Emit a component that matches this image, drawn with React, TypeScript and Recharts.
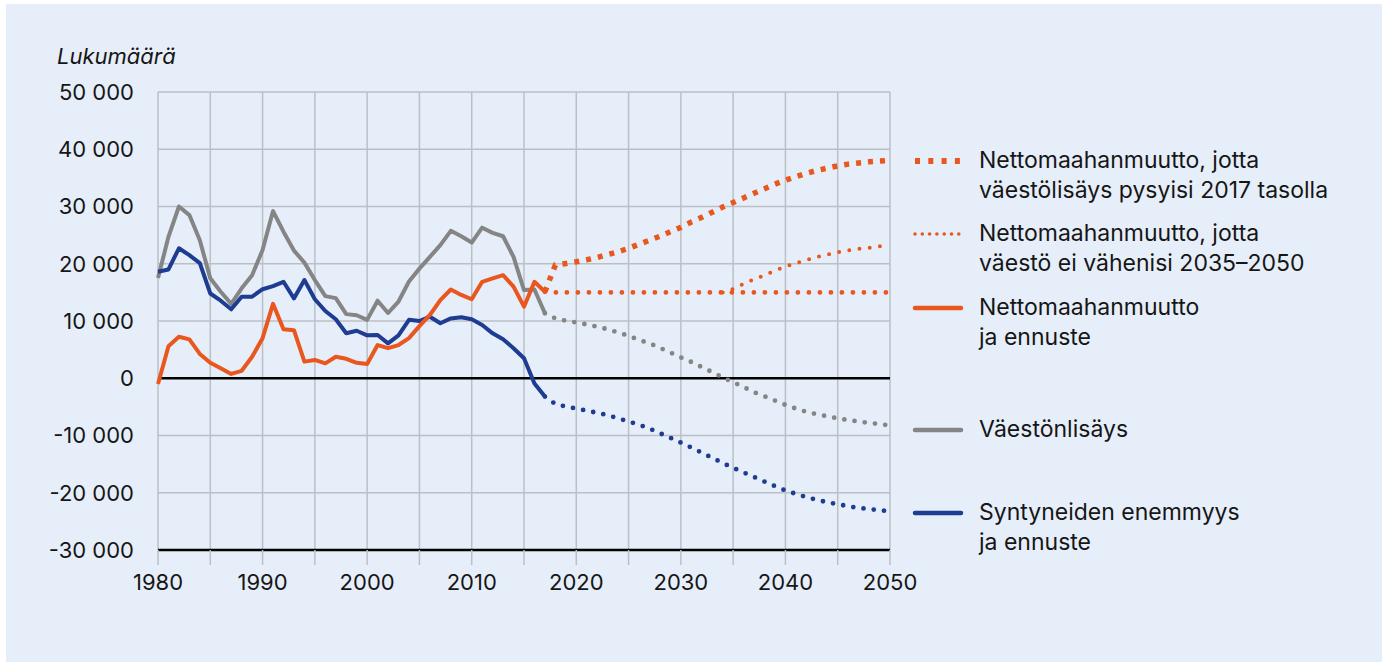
import {
  LineChart,
  Line,
  XAxis,
  YAxis,
  CartesianGrid,
  ReferenceLine,
} from "recharts";

const FONT = "Inter, 'Noto Sans', sans-serif";
const ORANGE = "#e9571f";
const BLUE = "#1e3c91";
const GRAY = "#858585";
const GRID = "#bcc0c6";
const BG = "#e6eef9";
const TEXT = "#161616";

// history 1980-2017
const histYears = [
  1980, 1981, 1982, 1983, 1984, 1985, 1986, 1987, 1988, 1989, 1990, 1991, 1992,
  1993, 1994, 1995, 1996, 1997, 1998, 1999, 2000, 2001, 2002, 2003, 2004, 2005,
  2006, 2007, 2008, 2009, 2010, 2011, 2012, 2013, 2014, 2015, 2016, 2017,
];
const nettoHist = [
  -1000, 5600, 7250, 6800, 4250, 2700, 1750, 750, 1300, 3750, 7000, 13000, 8550,
  8400, 2900, 3200, 2600, 3750, 3400, 2700, 2500, 5800, 5250, 5800, 7000, 9100,
  11050, 13650, 15500, 14550, 13800, 16850, 17450, 18000, 16000, 12500, 16850,
  15100,
];
const lisaysHist = [
  17500, 24700, 30000, 28500, 24100, 17450, 15100, 13000, 15700, 18000, 22400,
  29200, 25600, 22300, 20200, 17150, 14350, 14000, 11200, 11000, 10200, 13550,
  11400, 13400, 16900, 19150, 21200, 23250, 25750, 24800, 23700, 26300, 25400,
  24800, 21200, 15400, 15500, 11350,
];
const syntyneetHist = [
  18600, 19000, 22700, 21500, 20100, 14800, 13550, 12050, 14250, 14250, 15550,
  16100, 16850, 13950, 17150, 13800, 11750, 10300, 7850, 8300, 7500, 7550, 6100,
  7500, 10200, 10000, 10750, 9600, 10450, 10650, 10300, 9300, 7850, 6800, 5250,
  3500, -900, -3200,
];

// forecast 2017-2050
const fcYears = [
  2017, 2018, 2019, 2020, 2021, 2022, 2023, 2024, 2025, 2026, 2027, 2028, 2029,
  2030, 2031, 2032, 2033, 2034, 2035, 2036, 2037, 2038, 2039, 2040, 2041, 2042,
  2043, 2044, 2045, 2046, 2047, 2048, 2049, 2050,
];
const nettoFc = [
  15100, 15000, 15000, 15000, 15000, 15000, 15000, 15000, 15000, 15000, 15000,
  15000, 15000, 15000, 15000, 15000, 15000, 15000, 15000, 15000, 15000, 15000,
  15000, 15000, 15000, 15000, 15000, 15000, 15000, 15000, 15000, 15000, 15000,
  15000,
];
const nettoTasollaFc = [
  15100, 19800, 20050, 20350, 20700, 21100, 21600, 22100, 22700, 23400, 24100,
  24800, 25600, 26350, 27300, 28100, 29000, 29900, 30700, 31500, 32300, 33100,
  33900, 34600, 35200, 35800, 36300, 36700, 37100, 37400, 37600, 37800, 37950,
  38050,
];
const lisaysFc = [
  11350, 10450, 10050, 9750, 9400, 9000, 8550, 8000, 7400, 6700, 6100, 5300,
  4500, 3630, 2850, 1950, 1070, 150, -700, -1530, -2450, -3150, -3900, -4650,
  -5300, -5850, -6300, -6650, -7000, -7300, -7550, -7800, -8000, -8250,
];
const syntyneetFc = [
  -3200, -4500, -4950, -5300, -5650, -6050, -6450, -7000, -7550, -8100, -8800,
  -9600, -10400, -11250, -12100, -13000, -13900, -14800, -15650, -16450, -17250,
  -18050, -18850, -19600, -20200, -20750, -21250, -21650, -22000, -22350,
  -22650, -22850, -23050, -23250,
];

// scenario: population would not decline 2035-2050
const eiVahenisiYears = [
  2034, 2035, 2036, 2037, 2038, 2039, 2040, 2041, 2042, 2043, 2044, 2045, 2046,
  2047, 2048, 2049, 2050,
];
const eiVahenisi = [
  15000, 15600, 16500, 17300, 18000, 18800, 19500, 20100, 20650, 21200, 21600,
  22000, 22350, 22600, 22800, 23050, 23150,
];

const xTicks = [
  1980, 1985, 1990, 1995, 2000, 2005, 2010, 2015, 2020, 2025, 2030, 2035, 2040,
  2045, 2050,
];
const yTicks = [-30000, -20000, -10000, 0, 10000, 20000, 30000, 40000, 50000];

const legendItems = [
  { lines: ["Nettomaahanmuutto, jotta", "väestölisäys pysyisi 2017 tasolla"], kind: "square", color: ORANGE, top: 0 },
  { lines: ["Nettomaahanmuutto, jotta", "väestö ei vähenisi 2035–2050"], kind: "dot", color: ORANGE, top: 73 },
  { lines: ["Nettomaahanmuutto", "ja ennuste"], kind: "solid", color: ORANGE, top: 147 },
  { lines: ["Väestönlisäys"], kind: "solid", color: GRAY, top: 269 },
  { lines: ["Syntyneiden enemmyys", "ja ennuste"], kind: "solid", color: BLUE, top: 352 },
];

const data = Array.from({ length: 71 }, (_, i) => {
  const year = 1980 + i;
  const row: Record<string, number | undefined> = { year };
  const h = histYears.indexOf(year);
  if (h >= 0) {
    row.netto = nettoHist[h];
    row.lisays = lisaysHist[h];
    row.syntyneet = syntyneetHist[h];
  }
  const f = fcYears.indexOf(year);
  if (f >= 0) {
    row.nettoFc = nettoFc[f];
    row.tasolla = nettoTasollaFc[f];
    row.lisaysFc = lisaysFc[f];
    row.syntyneetFc = syntyneetFc[f];
  }
  const e = eiVahenisiYears.indexOf(year);
  if (e >= 0) row.eiVahenisi = eiVahenisi[e];
  return row;
});

const fmt = (v: number) =>
  v === 0 ? "0" : `${v < 0 ? "-" : ""}${Math.abs(v) / 1000} 000`;

function Swatch({ kind, color }: { kind: string; color: string }) {
  return (
    <svg width={54} height={10} style={{ position: "absolute", left: 0, top: 10 }}>
      {kind === "solid" && (
        <line x1={3} y1={5} x2={49} y2={5} stroke={color} strokeWidth={4.5} strokeLinecap="round" />
      )}
      {kind === "square" && (
        <line x1={3} y1={5} x2={50} y2={5} stroke={color} strokeWidth={6} strokeDasharray="5 8.3" />
      )}
      {kind === "dot" && (
        <line x1={3} y1={5} x2={50} y2={5} stroke={color} strokeWidth={3.6} strokeLinecap="round" strokeDasharray="0 7.3" />
      )}
    </svg>
  );
}

function LegendBox() {
  return (
    <div style={{ position: "absolute", left: 912, top: 146, width: 460, height: 420, fontFamily: FONT, color: TEXT }}>
      {legendItems.map((it) => (
        <div key={it.lines.join()} style={{ position: "absolute", left: 0, top: it.top }}>
          <Swatch kind={it.kind} color={it.color} />
          <div style={{ marginLeft: 67, fontSize: 23, lineHeight: "29.5px", whiteSpace: "nowrap" }}>
            {it.lines.map((l) => (
              <div key={l}>{l}</div>
            ))}
          </div>
        </div>
      ))}
    </div>
  );
}

export default function App() {
  return (
    <div style={{ position: "absolute", left: 0, top: 0, width: 1382, height: 662, background: "#fff" }}>
      <div style={{ position: "absolute", left: 6, top: 4, right: 0, bottom: 0, background: BG }} />
      <div
        style={{
          position: "absolute",
          left: 57,
          top: 43,
          fontFamily: FONT,
          fontStyle: "italic",
          fontSize: 22,
          color: TEXT,
        }}
      >
        Lukumäärä
      </div>
      <div style={{ position: "absolute", left: 0, top: 0 }}>
        <LineChart
          width={1382}
          height={662}
          data={data}
          margin={{ top: 92, right: 492, left: 0, bottom: 0 }}
        >
          <CartesianGrid stroke={GRID} strokeWidth={1.5} />
          <XAxis
            dataKey="year"
            type="number"
            domain={[1980, 2050]}
            ticks={xTicks}
            height={112}
            axisLine={false}
            tickLine={{ stroke: GRID, strokeWidth: 1.5 }}
            tickSize={15}
            tickMargin={9}
            interval={0}
            tickFormatter={(v: number) => (v % 10 === 0 ? String(v) : "")}
            tick={{ fill: TEXT, fontSize: 22, fontFamily: FONT }}
          />
          <YAxis
            type="number"
            domain={[-30000, 50000]}
            ticks={yTicks}
            width={158}
            axisLine={false}
            tickLine={false}
            tickSize={0}
            tickMargin={24}
            interval={0}
            tickFormatter={fmt}
            tick={{ fill: TEXT, fontSize: 22, fontFamily: FONT }}
          />
          <ReferenceLine y={0} stroke="#000" strokeWidth={2.5} />
          <ReferenceLine y={-30000} stroke="#000" strokeWidth={2.5} />
          <Line dataKey="lisaysFc" stroke={GRAY} strokeWidth={4.8} strokeLinecap="round" strokeDasharray="0 10.3" dot={false} isAnimationActive={false} />
          <Line dataKey="syntyneetFc" stroke={BLUE} strokeWidth={4.8} strokeLinecap="round" strokeDasharray="0 10.3" dot={false} isAnimationActive={false} />
          <Line dataKey="nettoFc" stroke={ORANGE} strokeWidth={4.8} strokeLinecap="round" strokeDasharray="0 11" dot={false} isAnimationActive={false} />
          <Line dataKey="eiVahenisi" stroke={ORANGE} strokeWidth={4} strokeLinecap="round" strokeDasharray="0 10.3" dot={false} isAnimationActive={false} />
          <Line dataKey="tasolla" stroke={ORANGE} strokeWidth={5.5} strokeDasharray="5 7" dot={false} isAnimationActive={false} />
          <Line dataKey="lisays" stroke={GRAY} strokeWidth={4} strokeLinejoin="round" dot={false} isAnimationActive={false} />
          <Line dataKey="syntyneet" stroke={BLUE} strokeWidth={4} strokeLinejoin="round" dot={false} isAnimationActive={false} />
          <Line dataKey="netto" stroke={ORANGE} strokeWidth={4} strokeLinejoin="round" dot={false} isAnimationActive={false} />
        </LineChart>
      </div>
      <LegendBox />
    </div>
  );
}
